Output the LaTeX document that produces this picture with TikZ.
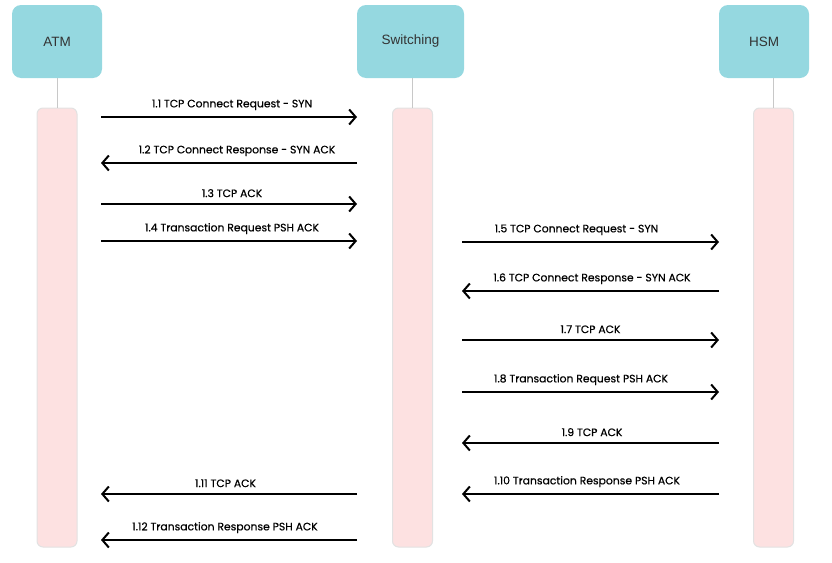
\documentclass[tikz,border=0pt]{standalone}
\usepackage{fontspec}
\setmainfont{Poppins}
\newfontfamily\msgfont{Poppins}[FakeBold=0.5]
\newfontfamily\headfont{Liberation Sans}
\usetikzlibrary{arrows.meta}
\definecolor{headfill}{HTML}{95D8E0}
\definecolor{barfill}{HTML}{FDE1E1}
\definecolor{barline}{HTML}{E2E2E2}
\definecolor{lifeline}{HTML}{C8C8C8}
\definecolor{headtext}{HTML}{333333}

\tikzset{
  actor/.style={fill=headfill, rounded corners=9pt, minimum width=90pt, minimum height=73pt,
    text=headtext, font=\headfont\fontsize{13.5}{15}\selectfont},
  lifebar/.style={draw=barline, line width=1pt, fill=barfill, rounded corners=6pt,
    minimum width=40pt, minimum height=439pt},
  msg/.style={-{Straight Barb[length=6.5pt,width=15pt,line width=2pt]}, line width=2pt},
  msglabel/.style={above=2.5pt, font=\msgfont\fontsize{10.8}{12}\selectfont}
}

\begin{document}
\begin{tikzpicture}[x=1pt,y=-1pt]

      % fixed margins
      \useasboundingbox (0,0) rectangle (832,562);

      % actors
      \node [actor, name=atm] at (57, 41.5) {ATM};
      \node [actor, name=sw, minimum width=107pt] at (410.5, 41.5) {Switching};
      \node [actor, name=hsm] at (764, 41.5) {HSM};

      % activation bars
      \node [lifebar, name=atmbar] at (57, 327.5) {};
      \node [lifebar, name=swbar] at (412.5, 327.5) {};
      \node [lifebar, name=hsmbar] at (773.5, 327.5) {};

      % lifelines
      \draw [lifeline, line width=1pt] (atmbar.north |- atm.south) -- (atmbar.north);
      \draw [lifeline, line width=1pt] (swbar.north |- sw.south) -- (swbar.north);
      \draw [lifeline, line width=1pt] (hsmbar.north |- hsm.south) -- (hsmbar.north);

      % message ends, ATM side
      \coordinate (a1) at (101, 117);  \coordinate (s1) at (357, 117);
      \coordinate (a2) at (101, 163);  \coordinate (s2) at (357, 163);
      \coordinate (a3) at (101, 204);  \coordinate (s3) at (357, 204);
      \coordinate (a4) at (101, 241);  \coordinate (s4) at (357, 241);
      \coordinate (a11) at (101, 494); \coordinate (s11) at (357, 494);
      \coordinate (a12) at (101, 540); \coordinate (s12) at (357, 540);
      % message ends, HSM side
      \coordinate (t5) at (462, 242);  \coordinate (h5) at (719, 242);
      \coordinate (t6) at (462, 291);  \coordinate (h6) at (719, 291);
      \coordinate (t7) at (462, 340);  \coordinate (h7) at (719, 340);
      \coordinate (t8) at (462, 392);  \coordinate (h8) at (719, 392);
      \coordinate (t9) at (462, 443);  \coordinate (h9) at (719, 443);
      \coordinate (t10) at (462, 494); \coordinate (h10) at (719, 494);

      % ATM <-> Switching
      \draw [msg] (a1) -- node [msglabel, xshift=3pt] {1.1 TCP Connect Request - SYN} (s1);
      \draw [msg] (s2) -- node [msglabel, xshift=8pt] {1.2 TCP Connect Response - SYN ACK} (a2);
      \draw [msg] (a3) -- node [msglabel, xshift=3pt] {1.3 TCP ACK} (s3);
      \draw [msg] (a4) -- node [msglabel, xshift=3pt] {1.4 Transaction Request PSH ACK} (s4);

      % Switching <-> HSM
      \draw [msg] (t5) -- node [msglabel, xshift=-14pt] {1.5 TCP Connect Request - SYN} (h5);
      \draw [msg] (h6) -- node [msglabel, xshift=1.5pt] {1.6 TCP Connect Response - SYN ACK} (t6);
      \draw [msg] (t7) -- node [msglabel] {1.7 TCP ACK} (h7);
      \draw [msg] (t8) -- node [msglabel, xshift=-9.5pt] {1.8 Transaction Request PSH ACK} (h8);
      \draw [msg] (h9) -- node [msglabel, xshift=1.5pt] {1.9 TCP ACK} (t9);
      \draw [msg] (h10) -- node [msglabel, xshift=-3.5pt] {1.10 Transaction Response PSH ACK} (t10);

      % back to ATM
      \draw [msg] (s11) -- node [msglabel, xshift=-3.5pt] {1.11 TCP ACK} (a11);
      \draw [msg] (s12) -- node [msglabel, xshift=-4pt] {1.12 Transaction Response PSH ACK} (a12);

\end{tikzpicture}
\end{document}
